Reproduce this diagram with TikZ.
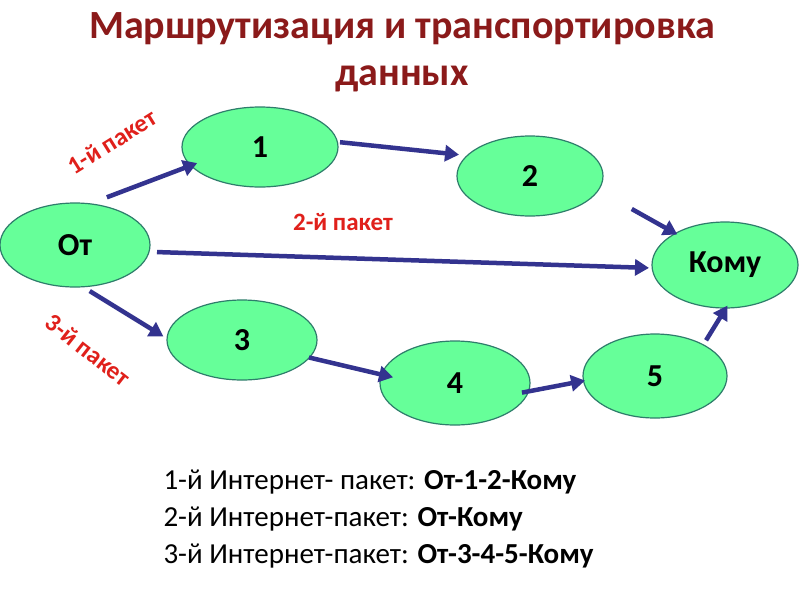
\documentclass[tikz,border=0pt]{standalone}
\usepackage{fontspec}
\setmainfont{Carlito}
\usetikzlibrary{shapes.geometric,arrows.meta}
\definecolor{nodefill}{HTML}{66FF99}
\definecolor{nodeline}{HTML}{2E7D6B}
\definecolor{arr}{HTML}{33338F}
\definecolor{titlec}{HTML}{8B1A1A}
\definecolor{redc}{HTML}{E0201B}
\tikzset{
 nd/.style={ellipse,draw=nodeline,line width=1.2pt,fill=nodefill,inner sep=0pt,font=\fontsize{32}{36}\selectfont\bfseries},
 ar/.style={draw=arr,line width=4.5pt,-{Triangle[length=14pt,width=16pt]},shorten <=2pt,shorten >=3pt},
 lbl/.style={text=redc,font=\fontsize{25}{28}\selectfont\bfseries},
 btxt/.style={anchor=west,font=\fontsize{29}{32}\selectfont}
}
\begin{document}
\begin{tikzpicture}[x=1pt,y=-1pt]
\useasboundingbox[fill=white] (0,0) rectangle (800,600);
\node[text=titlec,font=\fontsize{40}{47}\selectfont\bfseries,align=center] (title) at (402,52) {Маршрутизация и транспортировка\\данных};
\node[nd,minimum width=150pt,minimum height=84pt] (ot) at (75,245) {От};
\node[nd,minimum width=156pt,minimum height=80pt] (n1) at (260,147) {1};
\node[nd,minimum width=146pt,minimum height=80pt] (n2) at (530,176) {2};
\node[nd,minimum width=146pt,minimum height=86pt] (komu) at (725,265) {Кому};
\node[nd,minimum width=150pt,minimum height=80pt] (n3) at (242,340) {3};
\node[nd,minimum width=150pt,minimum height=84pt] (n4) at (455,383) {4};
\node[nd,minimum width=144pt,minimum height=84pt] (n5) at (655,376) {5};
\coordinate (a1) at (105,198); \coordinate (b1) at (200,162);
\coordinate (a2) at (338,142); \coordinate (b2) at (462,155);
\coordinate (a3) at (630,208); \coordinate (b3) at (680,236);
\coordinate (a4) at (155,252); \coordinate (b4) at (652,268);
\coordinate (a5) at (88,290); \coordinate (b5) at (166,338);
\coordinate (a6) at (307,357); \coordinate (b6) at (396,378);
\coordinate (a7) at (520,393); \coordinate (b7) at (588,380);
\coordinate (a8) at (705,342); \coordinate (b8) at (729,303);
\foreach \s/\t in {a1/b1,a2/b2,a3/b3,a4/b4,a5/b5,a6/b6,a7/b7,a8/b8} \draw[ar] (\s) -- (\t);
\node[lbl,rotate=32] (l1) at (112,142) {1-й пакет};
\node[lbl] (l2) at (343,222) {2-й пакет};
\node[lbl,rotate=-38] (l3) at (88,350) {3-й пакет};
\node[btxt] (t1) at (160,482) {1-й Интернет- пакет: \textbf{От-1-2-Кому}};
\node[btxt] (t2) at (160,519) {2-й Интернет-пакет: \textbf{От-Кому}};
\node[btxt] (t3) at (160,556) {3-й Интернет-пакет: \textbf{От-3-4-5-Кому}};
\end{tikzpicture}
\end{document}
